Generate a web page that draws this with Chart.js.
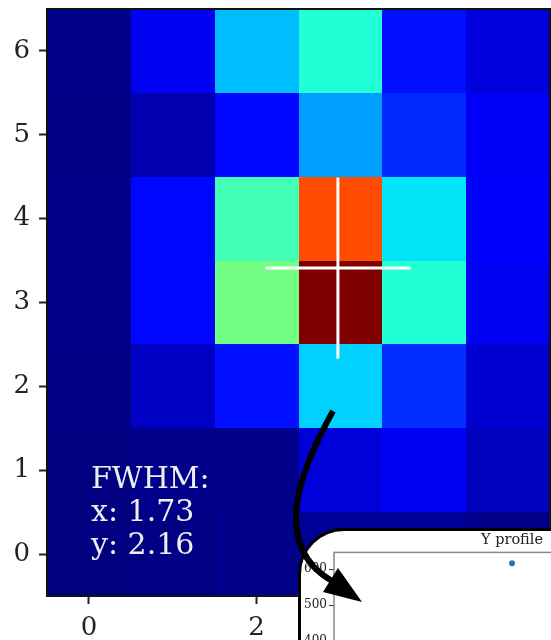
<!DOCTYPE html>
<html>
<head>
<meta charset="utf-8">
<script src="https://cdn.jsdelivr.net/npm/chart.js@4.4.1/dist/chart.umd.min.js"></script>
<style>
  body { margin: 0; width: 551px; height: 640px; overflow: hidden; position: relative; background: #fff; }
  #main { position: absolute; left: 0; top: 0; }
  #inset { position: absolute; left: 298px; top: 528px; width: 420px; height: 300px; background: #fff; border: 3px solid #000; border-radius: 46px; overflow: hidden; }
  #insetChart { position: absolute; left: 0; top: 0; }
  #arrow { position: absolute; left: 0; top: 0; pointer-events: none; }
</style>
</head>
<body>
<canvas id="main" width="551" height="640"></canvas>
<div id="inset"><canvas id="insetChart" width="420" height="300"></canvas></div>
<canvas id="arrow" width="551" height="640"></canvas>
<script>
// pixel columns / rows of the cutout
const columns = [0, 1, 2, 3, 4, 5];
const rows = [0, 1, 2, 3, 4, 5, 6];

// normalised intensity (0..1, jet colormap), one list per row, bottom row first
const row0 = [0.00, 0.003, 0.01, 0.02, 0.02, 0.01];
const row1 = [0.00, 0.01, 0.01, 0.077, 0.10, 0.055];
const row2 = [0.005, 0.06, 0.14, 0.33, 0.17, 0.07];
const row3 = [0.01, 0.13, 0.49, 1.00, 0.39, 0.10];
const row4 = [0.01, 0.13, 0.43, 0.83, 0.35, 0.12];
const row5 = [0.005, 0.04, 0.13, 0.28, 0.165, 0.105];
const row6 = [0.01, 0.10, 0.31, 0.39, 0.14, 0.08];
const cells = [row0, row1, row2, row3, row4, row5, row6];

const xTicks = [0, 2, 4];
const yTicks = [0, 1, 2, 3, 4, 5, 6];

// centroid and FWHM
const centerX = 2.97;
const centerY = 3.41;
const fwhmX = 1.73;
const fwhmY = 2.16;

// Y profile inset (counts per row, through the centre column)
const profileRows = [0, 1, 2, 3, 4, 5, 6];
const profileCounts = [70, 103, 248, 617, 525, 217, 277];
const insetYTicks = [0, 100, 200, 300, 400, 500, 600];

const serif = '"DejaVu Serif", serif';

// matplotlib jet
function interp(pts, v) {
    for (let i = 1; i < pts.length; i++) {
        if (v <= pts[i][0]) {
            const a = pts[i - 1], b = pts[i];
            return a[1] + (b[1] - a[1]) * (v - a[0]) / (b[0] - a[0]);
        }
    }
    return pts[pts.length - 1][1];
}
function jet(v) {
    const r = interp([[0, 0], [0.35, 0], [0.66, 1], [0.89, 1], [1, 0.5]], v);
    const g = interp([[0, 0], [0.125, 0], [0.375, 1], [0.64, 1], [0.91, 0], [1, 0]], v);
    const b = interp([[0, 0.5], [0.11, 1], [0.34, 1], [0.65, 0], [1, 0]], v);
    return 'rgb(' + Math.round(r * 255) + ',' + Math.round(g * 255) + ',' + Math.round(b * 255) + ')';
}

const heatmap = {
    id: 'heatmap',
    beforeDatasetsDraw(chart) {
        const ctx = chart.ctx;
        const x = chart.scales.x, y = chart.scales.y;
        ctx.save();
        rows.forEach((r, i) => {
            columns.forEach((c, j) => {
                const x0 = Math.round(x.getPixelForValue(c - 0.5));
                const x1 = Math.round(x.getPixelForValue(c + 0.5));
                const y0 = Math.round(y.getPixelForValue(r - 0.5));
                const y1 = Math.round(y.getPixelForValue(r + 0.5));
                ctx.fillStyle = jet(cells[i][j]);
                ctx.fillRect(x0, y1, x1 - x0, y0 - y1);
            });
        });
        ctx.restore();
    },
    afterDatasetsDraw(chart) {
        const ctx = chart.ctx;
        const a = chart.chartArea;
        const lines = ['FWHM:', 'x: ' + fwhmX.toFixed(2), 'y: ' + fwhmY.toFixed(2)];
        ctx.save();
        ctx.font = '30px ' + serif;
        ctx.fillStyle = '#eeeeee';
        ctx.textBaseline = 'alphabetic';
        lines.forEach((t, i) => ctx.fillText(t, a.left + 44, a.bottom - 108 + i * 33));
        ctx.restore();
    },
    afterDraw(chart) {
        const ctx = chart.ctx;
        const a = chart.chartArea;
        ctx.save();
        ctx.strokeStyle = '#111';
        ctx.lineWidth = 2;
        ctx.strokeRect(a.left, a.top, a.right - a.left, a.bottom - a.top);
        ctx.restore();
    }
};

const axisBase = {
    type: 'linear',
    border: { display: false },
    grid: { drawOnChartArea: false, tickLength: 8, tickColor: '#222', tickWidth: 2 },
    ticks: { font: { family: serif, size: 26 }, color: '#222', padding: 9, autoSkip: false, maxRotation: 0, callback: v => String(v) }
};

new Chart(document.getElementById('main'), {
    type: 'scatter',
    data: {
        datasets: [
            {
                data: [{ x: centerX - fwhmX / 2, y: centerY }, { x: centerX + fwhmX / 2, y: centerY }],
                showLine: true, borderColor: '#ffffff', borderWidth: 3, pointRadius: 0
            },
            {
                data: [{ x: centerX, y: centerY - fwhmY / 2 }, { x: centerX, y: centerY + fwhmY / 2 }],
                showLine: true, borderColor: '#ffffff', borderWidth: 3, pointRadius: 0
            }
        ]
    },
    options: {
        responsive: false,
        animation: false,
        layout: { padding: { top: 9, right: 1, left: 0, bottom: 0 } },
        plugins: { legend: { display: false }, tooltip: { enabled: false } },
        scales: {
            x: Object.assign({}, axisBase, {
                min: -0.5, max: 5.5,
                afterBuildTicks: s => { s.ticks = xTicks.map(v => ({ value: v })); },
                afterFit: s => { s.height = 44; s.paddingLeft = 0; s.paddingRight = 0; }
            }),
            y: Object.assign({}, axisBase, {
                min: -0.5, max: 6.5,
                afterBuildTicks: s => { s.ticks = yTicks.map(v => ({ value: v })); },
                afterFit: s => { s.width = 47; s.paddingTop = 0; s.paddingBottom = 0; }
            })
        }
    },
    plugins: [heatmap]
});

const insetFrame = {
    id: 'insetFrame',
    afterDraw(chart) {
        const ctx = chart.ctx;
        const a = chart.chartArea;
        ctx.save();
        ctx.strokeStyle = '#888';
        ctx.lineWidth = 1.5;
        ctx.strokeRect(a.left, a.top, a.right - a.left, a.bottom - a.top);
        ctx.restore();
    }
};

new Chart(document.getElementById('insetChart'), {
    type: 'scatter',
    data: {
        datasets: [{
            data: profileRows.map((r, i) => ({ x: r, y: profileCounts[i] })),
            pointRadius: 3, backgroundColor: '#1f77b4', borderWidth: 0
        }]
    },
    options: {
        responsive: false,
        animation: false,
        layout: { padding: { top: 0, right: 31, left: 0, bottom: 0 } },
        plugins: {
            legend: { display: false },
            tooltip: { enabled: false },
            title: { display: true, fullSize: false, text: 'Y profile', color: '#222', font: { family: serif, size: 14.5, weight: 'normal' }, padding: { top: 1, bottom: 3 } }
        },
        scales: {
            x: {
                type: 'linear', min: -0.5, max: 6.5,
                border: { display: false },
                grid: { drawOnChartArea: false, tickLength: 5, tickColor: '#333' },
                ticks: { font: { family: serif, size: 12 }, color: '#222' },
                afterFit: s => { s.height = 46; s.paddingLeft = 0; s.paddingRight = 0; }
            },
            y: {
                type: 'linear', min: 0, max: 647,
                border: { display: false },
                grid: { drawOnChartArea: false, tickLength: 5, tickColor: '#333' },
                ticks: { font: { family: serif, size: 12 }, color: '#222', padding: 2, callback: v => String(v) },
                afterBuildTicks: s => { s.ticks = insetYTicks.map(v => ({ value: v })); },
                afterFit: s => { s.width = 33; s.paddingTop = 0; s.paddingBottom = 0; }
            }
        }
    },
    plugins: [insetFrame]
});

// connecting arrow, drawn over both plots
const actx = document.getElementById('arrow').getContext('2d');
actx.strokeStyle = '#000';
actx.fillStyle = '#000';
actx.lineWidth = 6;
actx.beginPath();
actx.moveTo(333, 411);
actx.bezierCurveTo(300, 470, 270, 545, 332, 581);
actx.stroke();
actx.beginPath();
actx.moveTo(362, 602);
actx.lineTo(323, 592);
actx.lineTo(338, 568);
actx.closePath();
actx.fill();
</script>
</body>
</html>
